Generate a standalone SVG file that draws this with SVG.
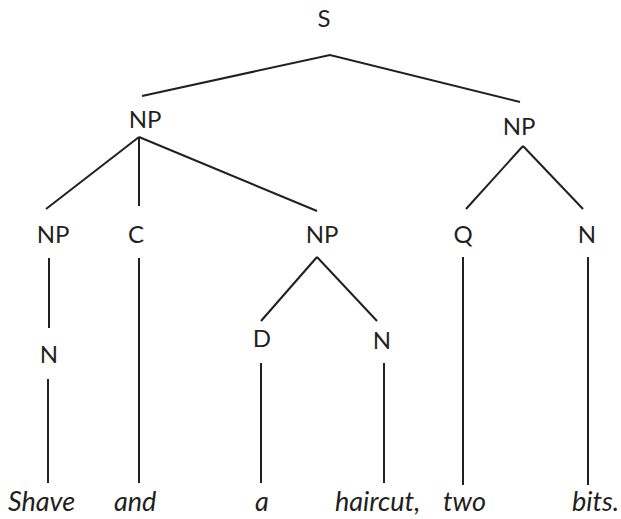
<svg xmlns="http://www.w3.org/2000/svg" width="621" height="519" viewBox="0 0 621 519">
<style>
.l{font-family:Lato,"Open Sans","DejaVu Sans",sans-serif;font-size:24px;fill:#231f20;text-anchor:middle}
.w{font-family:Lato,"Open Sans","DejaVu Sans",sans-serif;font-size:27px;font-style:italic;fill:#231f20}
.e{stroke:#231f20;stroke-width:2;fill:none;stroke-linecap:butt}
</style>
<rect width="621" height="519" fill="#fff"/>
<g id="connectors" class="e">
<polyline points="142,96 330,55 520,102"/>
<line x1="139" y1="137" x2="46" y2="209"/>
<line x1="139" y1="137" x2="139" y2="206"/>
<line x1="139" y1="137" x2="317" y2="211"/>
<line x1="523" y1="146" x2="466" y2="209"/>
<line x1="523" y1="146" x2="583" y2="209"/>
<line x1="49" y1="258" x2="49" y2="328"/>
<line x1="139" y1="258" x2="139" y2="483"/>
<line x1="317" y1="257" x2="261" y2="321"/>
<line x1="317" y1="257" x2="377" y2="321"/>
<line x1="463" y1="257" x2="463" y2="485"/>
<line x1="588" y1="257" x2="588" y2="485"/>
<line x1="48" y1="379" x2="48" y2="483"/>
<line x1="261" y1="363" x2="261" y2="483"/>
<line x1="384" y1="363" x2="384" y2="483"/>
</g>
<g id="S"><text class="l" x="324" y="27">S</text></g>
<g id="NP1"><text class="l" x="145" y="128">NP</text></g>
<g id="NP2"><text class="l" x="519" y="135">NP</text></g>
<g id="NP3"><text class="l" x="53" y="243">NP</text></g>
<g id="C"><text class="l" x="136" y="243">C</text></g>
<g id="NP4"><text class="l" x="322" y="243">NP</text></g>
<g id="Q"><text class="l" x="463" y="243">Q</text></g>
<g id="N1"><text class="l" x="587" y="243">N</text></g>
<g id="N2"><text class="l" x="49" y="363">N</text></g>
<g id="D"><text class="l" x="262" y="347">D</text></g>
<g id="N3"><text class="l" x="382" y="349">N</text></g>
<g id="w1"><text class="w" x="8" y="511">Shave</text></g>
<g id="w2"><text class="w" x="114" y="511">and</text></g>
<g id="w3"><text class="w" x="255" y="511">a</text></g>
<g id="w4"><text class="w" x="335" y="511">haircut,</text></g>
<g id="w5"><text class="w" x="443" y="511">two</text></g>
<g id="w6"><text class="w" x="572" y="511">bits.</text></g>
</svg>
